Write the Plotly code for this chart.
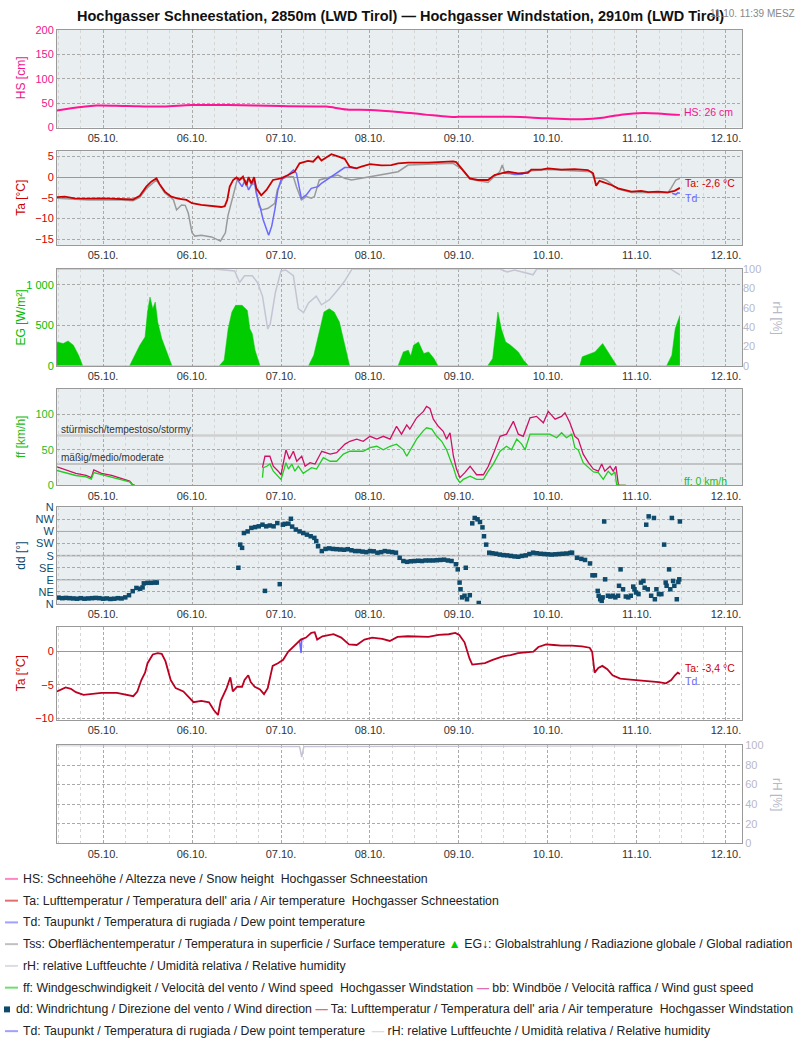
import plotly.graph_objects as go

YEAR = "2023-"
def ts(lst):
    return [None if s is None else YEAR + s for s in lst]

# ---------------- DATA ----------------
hs_t = ["10-04 11:35","10-04 18:00","10-04 22:15","10-05 06:30","10-05 16:10","10-06 00:00","10-06 10:00",
        "10-07 00:00","10-07 09:30","10-07 12:15","10-07 17:45","10-08 00:00","10-08 07:35","10-08 14:30",
        "10-08 21:20","10-09 00:00","10-09 14:00","10-10 00:00","10-10 09:15","10-10 14:45","10-10 20:15",
        "10-11 01:45","10-11 07:20","10-11 11:35"]
hs_v = [35,42,45,44,43,46,46,44,43,43,37,36,32,27,22,22,22,19,17,20,27,30,28,26]

ta_t = ["10-04 11:35","10-04 13:40","10-04 16:20","10-04 20:00","10-05 00:00","10-05 05:00","10-05 08:05",
        "10-05 09:55","10-05 11:40","10-05 13:00","10-05 14:25","10-05 15:15","10-05 16:40","10-05 18:25",
        "10-05 20:15","10-05 22:30","10-06 00:00","10-06 02:30","10-06 05:15","10-06 07:55","10-06 08:50",
        "10-06 09:30","10-06 10:10","10-06 11:05","10-06 12:00","10-06 12:50","10-06 13:45","10-06 14:40",
        "10-06 15:15","10-06 16:00","10-06 16:45","10-06 17:20","10-06 18:40","10-06 20:05","10-06 21:50",
        "10-07 00:00","10-07 01:55","10-07 03:40","10-07 05:00","10-07 07:15","10-07 08:40","10-07 10:00",
        "10-07 10:55","10-07 13:35","10-07 15:20","10-07 17:10","10-07 18:30","10-07 20:20","10-07 21:40",
        "10-08 00:00","10-08 03:05","10-08 05:45","10-08 07:35","10-08 10:15","10-08 15:40","10-08 19:15",
        "10-08 22:25","10-08 23:15","10-09 00:40","10-09 02:55","10-09 05:05","10-09 07:50","10-09 09:35",
        "10-09 13:15","10-09 15:55","10-09 18:35","10-09 19:30","10-09 22:10","10-10 00:00","10-10 03:35",
        "10-10 07:10","10-10 10:45","10-10 12:10","10-10 13:00","10-10 13:55","10-10 15:15","10-10 17:05",
        "10-10 18:55","10-10 20:40","10-10 22:30","10-11 01:10","10-11 03:00","10-11 05:40","10-11 08:20",
        "10-11 10:10","10-11 11:35"]
ta_v = [-4.8,-4.7,-5.1,-5.2,-5.1,-5.2,-5.4,-4.5,-2.3,-1.1,-0.3,-1.7,-3.5,-4.7,-5.2,-5.5,-6.3,-6.7,-6.9,-7.2,-7.0,
        -5.5,-2.3,-0.7,-0.1,-0.7,0.1,-1.9,0.0,-1.5,0.0,-2.7,-4.4,-3.1,-0.7,-0.3,0.5,1.3,3.3,3.9,3.7,5.0,4.0,5.5,
        5.0,4.4,2.5,2.1,2.5,3.1,2.8,2.9,3.3,3.5,3.5,3.7,3.8,3.6,2.1,-0.3,-0.7,-0.7,0.5,1.3,0.9,1.0,1.8,1.8,2.1,
        1.8,1.9,1.7,0.9,-2.1,-0.9,-1.3,-1.9,-2.7,-3.1,-3.5,-3.3,-3.6,-3.5,-3.7,-3.3,-2.6]

tss_t = ["10-04 11:35","10-04 16:20","10-04 20:00","10-05 05:00","10-05 08:05","10-05 09:55","10-05 11:40",
         "10-05 14:25","10-05 16:40","10-05 18:25","10-05 19:00","10-05 19:50","10-05 21:10","10-05 22:10",
         "10-05 23:00","10-06 00:00","10-06 00:45","10-06 02:30","10-06 05:15","10-06 07:40","10-06 09:00",
         "10-06 09:40","10-06 11:00","10-06 12:10","10-06 13:45","10-06 14:40","10-06 15:15","10-06 16:00",
         "10-06 17:00","10-06 18:00","10-06 18:50","10-06 20:30","10-06 22:20","10-06 23:00","10-07 00:30",
         "10-07 01:55","10-07 03:20","10-07 04:10","10-07 05:30","10-07 06:50","10-07 08:10","10-07 09:00",
         "10-07 10:20","10-07 12:40","10-07 15:20","10-07 17:10","10-07 19:00","10-07 21:40","10-08 00:00",
         "10-08 03:05","10-08 07:35","10-08 10:15","10-08 15:40","10-08 22:25","10-09 00:40","10-09 02:55",
         "10-09 07:50","10-09 09:35","10-09 11:00","10-09 11:40","10-09 12:25","10-09 15:55","10-09 19:30",
         "10-10 00:00","10-10 07:10","10-10 11:40","10-10 12:30","10-10 14:20","10-10 15:40","10-10 17:05",
         "10-10 18:55","10-10 22:30","10-11 03:00","10-11 08:20","10-11 09:10","10-11 10:30","10-11 11:35"]
tss_v = [-5.1,-5.4,-5.5,-5.5,-5.7,-4.9,-2.8,-0.7,-3.8,-5.0,-5.5,-7.9,-6.7,-6.8,-8.7,-13.4,-14.2,-14.0,-14.4,
         -15.4,-13.4,-9.4,-4.7,-0.7,-0.3,-2.2,-0.4,-1.9,-1.5,-6.7,-7.9,-7.5,-6.3,-3.1,-0.3,0.1,0.1,-2.3,-5.5,
         -4.7,-5.1,-4.7,-0.7,-0.1,0.5,-0.3,-0.7,-0.3,0.1,0.5,1.3,2.9,3.1,3.3,2.0,-0.5,-1.3,0.1,1.3,2.9,0.9,0.7,
         1.5,1.8,1.6,1.3,-0.3,-0.3,-0.7,-1.7,-2.9,-3.7,-3.8,-3.8,-2.7,-0.7,-0.3]

td_t = ["10-06 12:00","10-06 13:30","10-06 14:20","10-06 15:15","10-06 16:45","10-06 17:20","10-06 18:20",
        "10-06 19:10","10-06 20:40","10-06 21:30","10-06 22:20","10-06 23:10","10-07 00:00","10-07 01:55",
        "10-07 03:20","10-07 04:10","10-07 05:30","10-07 06:50","10-07 08:10","10-07 10:00","10-07 10:55",
        "10-07 13:35","10-07 15:20","10-07 17:10","10-07 18:30","10-07 20:20", None,
        "10-09 12:00","10-09 13:30","10-09 15:00","10-09 17:00","10-09 19:00", None,
        "10-11 09:30","10-11 10:30","10-11 11:00","10-11 11:35"]
td_v = [-0.3,-2.3,-0.7,-3.1,-0.7,-3.9,-7.1,-10.2,-14.0,-11.8,-7.9,-3.1,-0.7,0.5,1.7,0.9,-5.1,-4.3,-2.7,-2.3,
        -1.5,0.1,1.3,2.3,2.3,2.1, None, 0.9,1.0,0.6,0.7,1.4, None, -3.9,-4.2,-3.8,-3.9]

eg_t = ["10-04 11:35","10-04 13:15","10-04 14:35","10-04 16:00","10-04 17:25","10-04 18:30",
        "10-05 07:10","10-05 08:35","10-05 09:55","10-05 11:20","10-05 12:00","10-05 12:40","10-05 13:25",
        "10-05 14:05","10-05 14:45","10-05 15:50","10-05 17:15","10-05 18:35",
        "10-06 07:20","10-06 08:40","10-06 09:45","10-06 10:45","10-06 11:45","10-06 13:30","10-06 14:55",
        "10-06 15:35","10-06 16:15","10-06 17:00","10-06 18:20",
        "10-07 07:25","10-07 08:50","10-07 10:10","10-07 11:35","10-07 13:00","10-07 14:20","10-07 15:45",
        "10-07 17:05","10-07 18:30",
        "10-08 07:35","10-08 09:00","10-08 10:20","10-08 11:00","10-08 11:45","10-08 13:05","10-08 14:30",
        "10-08 15:50","10-08 17:15","10-08 18:20",
        "10-09 07:45","10-09 09:05","10-09 10:30","10-09 11:25","10-09 12:35","10-09 13:55","10-09 16:00",
        "10-09 17:25","10-09 18:45",
        "10-10 08:35","10-10 09:15","10-10 10:35","10-10 12:40","10-10 14:45","10-10 16:10","10-10 17:30",
        "10-10 18:35",
        "10-11 08:00","10-11 09:25","10-11 10:20","10-11 11:25","10-11 11:35"]
eg_v = [295,275,307,254,131,0,
        0,131,254,357,664,848,705,787,541,336,152,0,
        0,70,459,664,746,746,684,459,397,193,0,
        0,131,377,664,705,664,541,295,0,
        0,172,193,120,254,295,152,172,90,0,
        0,90,664,459,295,254,172,70,0,
        0,111,131,172,275,172,90,0,
        0,131,459,582,623]

rh1_t = ["10-04 11:35","10-06 06:00","10-06 11:30","10-06 12:50","10-06 14:10","10-06 16:15","10-06 17:40",
         "10-06 19:00","10-06 20:25","10-06 21:05","10-06 22:30","10-07 00:00","10-07 01:15","10-07 03:20",
         "10-07 04:40","10-07 06:05","10-07 07:25","10-07 09:30","10-07 10:55","10-07 13:00","10-07 15:00",
         "10-07 17:05","10-07 19:10","10-09 11:00","10-09 13:00","10-09 15:00","10-09 20:00","10-09 21:00",
         "10-11 09:00","10-11 10:30","10-11 11:35"]
rh1_v = [100,100,98,86,93,93,86,72,38,43,76,98,99,93,59,55,65,72,63,68,77,87,100,100,97,99,94,100,100,97,94]

ff_t = ["10-04 11:35","10-04 13:55","10-04 16:40","10-04 19:25","10-04 20:50","10-04 21:30","10-04 23:35",
        "10-05 02:20","10-05 05:05","10-05 07:10","10-05 07:50","10-05 08:35", None,
        "10-06 19:00","10-06 19:15","10-06 20:10","10-06 21:00","10-06 21:55","10-06 22:50","10-07 00:00",
        "10-07 00:40","10-07 01:20","10-07 02:00","10-07 02:55","10-07 03:45","10-07 04:40","10-07 06:00",
        "10-07 06:55","10-07 08:15","10-07 09:35","10-07 10:30","10-07 11:25","10-07 13:15","10-07 15:00",
        "10-07 16:50","10-07 18:35","10-07 20:25","10-07 22:10","10-08 00:00","10-08 01:50","10-08 03:35",
        "10-08 05:25","10-08 07:10","10-08 09:00","10-08 09:55","10-08 10:45","10-08 12:35","10-08 14:25",
        "10-08 15:15","10-08 16:40","10-08 18:00","10-08 19:20","10-08 20:40","10-08 21:35","10-08 22:30",
        "10-08 23:20","10-09 00:15","10-09 01:10","10-09 03:00","10-09 04:45","10-09 06:35","10-09 07:55",
        "10-09 09:15","10-09 11:05","10-09 12:50","10-09 14:10","10-09 15:35","10-09 16:55","10-09 17:50",
        "10-09 19:10","10-09 20:55","10-09 22:45","10-10 00:30","10-10 02:20","10-10 03:40","10-10 05:00",
        "10-10 06:25","10-10 07:15","10-10 08:10","10-10 09:30","10-10 10:55","10-10 12:15","10-10 13:35",
        "10-10 14:55","10-10 16:15","10-10 17:10","10-10 18:05","10-10 18:30","10-10 19:25","10-10 21:00"]
ff_v = [21,18,14,12,9,18,15,12,8,5,1,0, None,
        11,25,27,30,20,15,8.5,20,32,23,30,20,27,17,20,25,23,32,39,34,34,44,48,48,48,53,55,50,55,58,50,41,48,
        65,77,81,79,69,62,50,37,25,11,4,8.5,13,8.5,8.5,20,30,48,55,50,65,58,50,72,72,71,72,67,74,67,72,53,50,
        32,25,19,18,8.5,20,15,19,1.4,0,0]

bb_t = ["10-04 11:35","10-04 13:55","10-04 16:40","10-04 19:25","10-04 20:50","10-04 21:30","10-04 23:35",
        "10-05 02:20","10-05 05:05","10-05 07:10","10-05 07:50","10-05 08:35", None,
        "10-06 19:00","10-06 19:40","10-06 21:00","10-06 21:55","10-06 23:15","10-07 00:00","10-07 01:20",
        "10-07 02:15","10-07 03:20","10-07 04:15","10-07 05:35","10-07 06:30","10-07 07:50","10-07 09:10",
        "10-07 11:00","10-07 13:15","10-07 15:00","10-07 17:15","10-07 18:35","10-07 20:25","10-07 22:10",
        "10-08 00:00","10-08 01:50","10-08 03:35","10-08 05:25","10-08 07:10","10-08 08:30","10-08 09:55",
        "10-08 10:45","10-08 12:35","10-08 14:25","10-08 15:15","10-08 16:10","10-08 17:05","10-08 18:25",
        "10-08 19:45","10-08 20:40","10-08 21:35","10-08 22:30","10-08 23:20","10-09 00:15","10-09 01:35",
        "10-09 03:00","10-09 04:45","10-09 06:35","10-09 07:55","10-09 09:15","10-09 11:05","10-09 12:50",
        "10-09 14:40","10-09 16:00","10-09 17:20","10-09 19:10","10-09 20:55","10-09 22:45","10-10 00:05",
        "10-10 01:55","10-10 03:40","10-10 04:35","10-10 05:55","10-10 07:15","10-10 08:10","10-10 09:30",
        "10-10 10:55","10-10 12:15","10-10 13:35","10-10 14:30","10-10 15:20","10-10 16:45","10-10 17:35",
        "10-10 18:20","10-10 19:00","10-10 19:25","10-10 21:00"]
bb_v = [26,22,17,14,11,22,17,14,10,6,2,0, None,
        25,41,41,27,20,15,50,37,48,34,41,27,32,30,48,44,46,58,62,65,62,69,65,69,65,83,72,85,79,95,104,111,108,
        93,83,76,65,74,41,23,11,18,27,15,15,27,44,69,72,90,72,69,95,97,88,104,93,97,102,88,69,65,44,32,23,20,
        30,20,27,20,27,1,0,0]

dd_t = ["10-04 12:00","10-04 13:00","10-04 14:00","10-04 15:00","10-04 16:00","10-04 17:00","10-04 18:00",
        "10-04 19:00","10-04 20:00","10-04 21:00","10-04 22:00","10-04 23:00","10-05 00:00","10-05 01:00",
        "10-05 02:00","10-05 03:00","10-05 04:00","10-05 05:00","10-05 06:00","10-05 07:00","10-05 08:00",
        "10-05 09:00","10-05 10:00","10-05 10:40","10-05 11:00","10-05 12:00","10-05 13:00","10-05 14:00",
        "10-05 14:30",
        "10-06 12:30","10-06 13:00","10-06 13:30","10-06 14:00","10-06 15:00","10-06 16:00","10-06 17:00",
        "10-06 18:00","10-06 19:00","10-06 19:40","10-06 20:00","10-06 21:00","10-06 22:00","10-06 23:00",
        "10-06 23:40","10-07 00:30","10-07 01:00","10-07 02:00","10-07 02:40","10-07 03:00","10-07 04:00",
        "10-07 05:00","10-07 06:00","10-07 07:00","10-07 08:00","10-07 09:00","10-07 09:30","10-07 10:00",
        "10-07 11:00","10-07 12:00","10-07 13:00","10-07 14:00","10-07 15:00","10-07 16:00","10-07 17:00",
        "10-07 18:00","10-07 19:00","10-07 20:00","10-07 21:00","10-07 22:00","10-07 23:00","10-08 00:00",
        "10-08 01:00","10-08 02:00","10-08 03:00","10-08 04:00","10-08 05:00","10-08 06:00","10-08 07:00",
        "10-08 08:00","10-08 09:00","10-08 10:00","10-08 11:00","10-08 12:00","10-08 13:00","10-08 14:00",
        "10-08 15:00","10-08 16:00","10-08 17:00","10-08 18:00","10-08 19:00","10-08 20:00","10-08 21:00",
        "10-08 22:00","10-08 23:10","10-08 23:40","10-09 00:10","10-09 00:25","10-09 00:50","10-09 01:30",
        "10-09 01:50","10-09 02:10","10-09 02:55","10-09 03:35","10-09 04:15","10-09 05:00","10-09 05:20",
        "10-09 05:40","10-09 06:20","10-09 06:45","10-09 07:20","10-09 08:10","10-09 09:00","10-09 10:00",
        "10-09 11:00","10-09 12:00","10-09 13:00","10-09 14:00","10-09 15:00","10-09 16:00","10-09 17:00",
        "10-09 18:00","10-09 19:00","10-09 20:00","10-09 21:00","10-09 22:00","10-09 23:00","10-10 00:00",
        "10-10 01:00","10-10 02:00","10-10 03:00","10-10 04:00","10-10 05:00","10-10 06:00","10-10 06:30",
        "10-10 07:50","10-10 09:00","10-10 10:00","10-10 11:20","10-10 12:00","10-10 12:40","10-10 13:25",
        "10-10 13:40","10-10 14:05","10-10 14:30","10-10 14:45","10-10 15:10","10-10 15:25","10-10 16:10",
        "10-10 16:50","10-10 17:30","10-10 18:10","10-10 18:55","10-10 19:10","10-10 19:35","10-10 20:15",
        "10-10 21:00","10-10 21:40","10-10 22:20","10-10 23:00","10-10 23:20","10-10 23:45","10-11 00:25",
        "10-11 01:05","10-11 01:45","10-11 02:05","10-11 02:30","10-11 02:55","10-11 03:10","10-11 03:50",
        "10-11 04:35","10-11 04:50","10-11 05:15","10-11 05:55","10-11 06:35","10-11 07:20","10-11 07:45",
        "10-11 08:00","10-11 08:40","10-11 09:00","10-11 09:25","10-11 09:45","10-11 10:05","10-11 10:45",
        "10-11 11:10","10-11 11:25","10-11 11:35"]
dd_v = [24,22,23,22,21,20,22,20,21,22,23,22,20,21,19,20,22,21,25,33,48,60,57,62,77,79,79,80,80,
        135,221,209,264,270,283,286,289,295,49,289,292,289,301,74,295,298,299,317,288,277,270,264,258,252,
        246,234,215,197,205,207,205,204,203,202,204,200,197,197,195,193,197,196,191,193,197,195,193,191,172,
        160,157,159,160,161,160,162,162,162,163,164,165,162,160,148,129,80,55,25,31,135,18,33,300,320,315,4,
        305,285,252,221,191,189,187,184,182,181,179,177,176,179,181,186,191,189,187,186,185,184,185,186,187,
        188,190,191,172,168,164,151,107,107,49,31,18,12,25,307,92,31,28,31,25,31,68,129,55,28,25,31,65,55,43,
        37,80,86,61,295,55,326,31,320,18,55,37,37,221,80,68,129,55,320,86,68,18,82,92,307]

ta2_t = ["10-04 11:35","10-04 12:35","10-04 13:55","10-04 15:20","10-04 16:40","10-04 18:45","10-04 20:50",
         "10-04 23:35","10-05 03:45","10-05 06:30","10-05 08:10","10-05 09:15","10-05 10:20","10-05 11:20",
         "10-05 12:00","10-05 13:25","10-05 14:45","10-05 15:50","10-05 16:50","10-05 18:15","10-05 19:35",
         "10-05 21:40","10-05 23:20","10-06 00:25","10-06 02:30","10-06 04:35","10-06 05:55","10-06 07:00",
         "10-06 07:45","10-06 08:40","10-06 09:20","10-06 10:20","10-06 11:00","10-06 12:10","10-06 13:30",
         "10-06 14:10","10-06 15:10","10-06 15:50","10-06 16:55","10-06 18:20","10-06 19:25","10-06 20:25",
         "10-06 21:45","10-06 23:10","10-07 00:35","10-07 01:55","10-07 03:45","10-07 05:20","10-07 06:45",
         "10-07 08:10","10-07 09:05","10-07 09:45","10-07 11:10","10-07 12:50","10-07 14:10","10-07 16:15",
         "10-07 18:20","10-07 20:25","10-07 22:30","10-08 00:35","10-08 03:20","10-08 05:20","10-08 07:25",
         "10-08 10:10","10-08 12:55","10-08 15:45","10-08 18:30","10-08 21:15","10-08 23:00","10-09 00:05",
         "10-09 01:30","10-09 02:50","10-09 03:35","10-09 05:40","10-09 07:00","10-09 09:05","10-09 11:50",
         "10-09 13:55","10-09 15:55","10-09 18:00","10-09 20:05","10-09 21:25","10-09 23:30","10-10 01:35",
         "10-10 03:35","10-10 06:25","10-10 09:10","10-10 11:15","10-10 11:55","10-10 12:35","10-10 13:35",
         "10-10 14:40","10-10 16:00","10-10 17:25","10-10 19:30","10-10 21:30","10-11 00:20","10-11 03:05",
         "10-11 05:50","10-11 07:50","10-11 09:15","10-11 10:15","10-11 11:00","10-11 11:35"]
ta2_v = [-6.0,-5.7,-5.4,-5.6,-6.1,-6.5,-6.4,-6.2,-6.2,-6.5,-6.7,-6.0,-4.3,-3.2,-1.8,-0.5,-0.3,-0.4,-1.5,-4.3,
         -5.5,-6.0,-6.9,-7.6,-7.4,-7.6,-8.8,-9.5,-7.4,-6.4,-5.5,-3.9,-6.0,-5.3,-5.3,-4.3,-3.6,-4.6,-5.3,-5.7,
         -6.4,-5.5,-2.2,-1.8,-1.3,-0.1,0.8,1.7,2.0,2.7,2.8,1.7,2.2,2.4,2.5,2.0,1.0,0.9,1.7,2.0,1.8,1.5,2.1,2.2,
         2.2,2.1,2.4,2.5,2.7,2.4,1.3,-1.1,-2.0,-1.9,-1.8,-1.3,-0.8,-0.6,-0.3,-0.2,-0.1,0.6,1.0,0.9,0.8,0.8,0.7,
         0.5,-0.1,-3.2,-2.5,-2.2,-2.7,-3.6,-4.1,-4.2,-4.3,-4.5,-4.6,-4.8,-4.3,-3.6,-3.2,-3.4]

td2_t = ["10-07 05:00","10-07 05:25","10-07 05:35","10-07 06:00"]
td2_v = [1.5,-0.3,1.6,1.8]

rh2_t = ["10-04 11:35","10-07 05:00","10-07 05:35","10-07 06:10","10-11 11:35"]
rh2_v = [100,99,88,99,100]

x_range = [YEAR + "10-04 11:35", YEAR + "10-12 04:20"]
date_tick0 = YEAR + "10-05 00:00"

# ---------------- STYLE ----------------
W, H = 800, 1050
FONT = "Liberation Sans, Arial, sans-serif"
PLOT_BG = "#e9eef1"
GRID = "#aaaaaa"
MINOR = "#d6d6d6"
BORDER = "#999999"

def px_x(p):
    return p / W
def px_y(p):
    return 1 - p / H

panels = {  # top, bottom in pixels
    1: (24, 123), 2: (147, 242), 3: (266, 364), 4: (387, 485),
    5: (507, 605), 6: (628, 722), 7: (748, 847)
}
xdom = [px_x(57), px_x(742)]

fig = go.Figure()

def add_line(x, y, ax, color, width=1.5, shape="linear", fill=None, fillcolor=None):
    fig.add_trace(go.Scatter(x=ts(x), y=y, mode="lines", xaxis="x" + ("" if ax == 1 else str(ax)),
                             yaxis="y" + ("" if ax == 1 else str(ax)),
                             line=dict(color=color, width=width, shape=shape),
                             fill=fill, fillcolor=fillcolor, connectgaps=False, showlegend=False,
                             hoverinfo="skip"))

add_line(hs_t, hs_v, 1, "#ff1493", 2, "spline")
add_line(tss_t, tss_v, 2, "#9a9a9a", 1.5)
add_line(td_t, td_v, 2, "#6a6aff", 1.5)
add_line(ta_t, ta_v, 2, "#cc0000", 1.8)
add_line(eg_t, eg_v, 3, "#00c800", 0.5, fill="tozeroy", fillcolor="#00cc00")
fig.add_trace(go.Scatter(x=ts(rh1_t), y=rh1_v, mode="lines", xaxis="x3", yaxis="y8",
                         line=dict(color="#c4c4d4", width=1.5), showlegend=False, hoverinfo="skip"))
add_line(bb_t, bb_v, 4, "#cc1166", 1.3)
add_line(ff_t, ff_v, 4, "#22cc22", 1.3)
fig.add_trace(go.Scatter(x=ts(dd_t), y=dd_v, mode="markers", xaxis="x5", yaxis="y5",
                         marker=dict(symbol="square", size=4.5, color="#0d4a6b", line=dict(width=0)),
                         showlegend=False, hoverinfo="skip"))
add_line(td2_t, td2_v, 6, "#6a6aff", 1.5)
add_line(ta2_t, ta2_v, 6, "#bb0022", 1.8)
add_line(rh2_t, rh2_v, 7, "#c4c4d4", 1.5)

layout = dict(width=W, height=H, margin=dict(l=0, r=0, t=0, b=0), paper_bgcolor="white",
              plot_bgcolor="white", font=dict(family=FONT, size=11, color="#333333"),
              showlegend=False)

for i in range(1, 8):
    xa = dict(domain=xdom, anchor="y" + ("" if i == 1 else str(i)), type="date", range=x_range,
              tick0=date_tick0, dtick=86400000, tickformat="%d.%m.", ticks="",
              showgrid=True, gridcolor=GRID, griddash="3px,2px", gridwidth=1,
              minor=dict(dtick=21600000, tick0=date_tick0, showgrid=True, gridcolor=MINOR,
                         griddash="3px,3px", gridwidth=1, ticks=""),
              showline=True, linecolor=BORDER, linewidth=1, mirror=True, zeroline=False,
              tickfont=dict(family=FONT, size=11, color="#333333"), fixedrange=True)
    if i != 1:
        xa["matches"] = "x"
    layout["xaxis" + ("" if i == 1 else str(i))] = xa

def yax(i, rng, tickvals, color, ticktext=None, side="left", zeroline=False):
    top, bot = panels[i]
    d = dict(domain=[px_y(bot), px_y(top)], anchor="x" + ("" if i == 1 else str(i)), range=rng,
             tickmode="array", tickvals=tickvals, showgrid=True, gridcolor=GRID, griddash="3px,2px",
             gridwidth=1, showline=True, linecolor=BORDER, linewidth=1, mirror=True, ticks="",
             side=side, zeroline=zeroline, zerolinecolor="#999999", zerolinewidth=1,
             tickfont=dict(family=FONT, size=11, color=color), fixedrange=True)
    if ticktext is not None:
        d["ticktext"] = ticktext
    return d

layout["yaxis"] = yax(1, [0, 200], [0, 50, 100, 150, 200], "#f0158c")
layout["yaxis2"] = yax(2, [-16.4, 6.2], [-15, -10, -5, 0, 5], "#cc0000", zeroline=True)
layout["yaxis3"] = yax(3, [0, 1195], [0, 500, 1000], "#00bb00", ticktext=["0", "500", "1 000"])
layout["yaxis4"] = yax(4, [0, 136], [0, 50, 100], "#22bb22")
layout["yaxis5"] = yax(5, [0, 360], [0, 45, 90, 135, 180, 225, 270, 315, 360], "#0d4a6b",
                       ticktext=["N", "NE", "E", "SE", "S", "SW", "W", "NW", "N"])
layout["yaxis6"] = yax(6, [-10.2, 3.6], [-10, -5, 0], "#cc0000", zeroline=True)
layout["yaxis7"] = yax(7, [0, 100], [0, 20, 40, 60, 80, 100], "#b8b8c8", side="right")
layout["yaxis8"] = dict(overlaying="y3", anchor="x3", side="right", range=[0, 100],
                        tickvals=[0, 20, 40, 60, 80, 100], showgrid=False, zeroline=False,
                        showline=False, ticks="", tickfont=dict(family=FONT, size=11, color="#b8b8c8"),
                        fixedrange=True)

shapes = []
for i in range(1, 6):
    suf = "" if i == 1 else str(i)
    shapes.append(dict(type="rect", xref="x" + suf + " domain", yref="y" + suf + " domain",
                       x0=0, x1=1, y0=0, y1=1, fillcolor=PLOT_BG, line=dict(width=0), layer="below"))
for val, col, wd in [(30, "#b4b4b4", 1.5), (70, "#cfcfcf", 2.5)]:
    shapes.append(dict(type="line", xref="x4 domain", yref="y4", x0=0, x1=1, y0=val, y1=val,
                       line=dict(color=col, width=wd), layer="below"))
for val, col, wd in [(90, "#a8a8a8", 1), (180, "#c8c8c8", 2), (270, "#a8a8a8", 1)]:
    shapes.append(dict(type="line", xref="x5 domain", yref="y5", x0=0, x1=1, y0=val, y1=val,
                       line=dict(color=col, width=wd), layer="below"))

ann = []
def note(x, y, text, color, size=11, anchor="left", angle=0, bold=False):
    ann.append(dict(x=px_x(x), y=px_y(y), xref="paper", yref="paper",
                    text=("<b>%s</b>" % text) if bold else text,
                    showarrow=False, xanchor=anchor, yanchor="middle", textangle=angle,
                    borderpad=0, font=dict(family=FONT, size=size, color=color)))

note(400, 10, "Hochgasser Schneestation, 2850m (LWD Tirol) — Hochgasser Windstation, 2910m (LWD Tirol)",
     "#111111", 14.5, anchor="center", bold=True)
note(796, 8, "11.10. 11:39 MESZ", "#888888", 10, anchor="right")

note(21, 73, "HS [cm]", "#f0158c", 12, anchor="center", angle=-90)
note(21, 194, "Ta [°C]", "#cc0000", 12, anchor="center", angle=-90)
note(21, 315, "EG [W/m²]", "#00bb00", 12, anchor="center", angle=-90)
note(21, 436, "ff [km/h]", "#22bb22", 12, anchor="center", angle=-90)
note(21, 556, "dd [°]", "#0d4a6b", 12, anchor="center", angle=-90)
note(21, 675, "Ta [°C]", "#cc0000", 12, anchor="center", angle=-90)
note(777, 315, "rH [%]", "#b8b8c8", 12, anchor="center", angle=90)
note(777, 797, "rH [%]", "#b8b8c8", 12, anchor="center", angle=90)

note(683, 107, "HS: 26 cm", "#f0158c", 10.5)
note(684, 179, "Ta: -2,6 °C", "#cc0000", 10.5)
note(684, 194, "Td", "#6a6aff", 10.5)
note(60, 428, "stürmisch/tempestoso/stormy", "#333333", 10)
note(60, 457, "mäßig/medio/moderate", "#333333", 10)
note(683, 480, "ff: 0 km/h", "#22bb22", 10.5)
note(684, 670, "Ta: -3,4 °C", "#cc0000", 10.5)
note(684, 683, "Td", "#6a6aff", 10.5)

LEG = 12.3
def sym(col, ch="—"):
    return "<span style='color:%s'><b>%s</b></span>" % (col, ch)

rows = [
    (883, "#ff88c4", "HS: Schneehöhe / Altezza neve / Snow height  Hochgasser Schneestation"),
    (905, "#e07070", "Ta: Lufttemperatur / Temperatura dell' aria / Air temperature  Hochgasser Schneestation"),
    (927, "#a0a0ff", "Td: Taupunkt / Temperatura di rugiada / Dew point temperature"),
    (949, "#c0c0c0", "Tss: Oberflächentemperatur / Temperatura in superficie / Surface temperature "
                     + sym("#00cc00", "▲") + " EG↓: Globalstrahlung / Radiazione globale / Global radiation"),
    (971, "#dcdce6", "rH: relative Luftfeuchte / Umidità relativa / Relative humidity"),
    (993, "#70dd70", "ff: Windgeschwindigkeit / Velocità del vento / Wind speed  Hochgasser Windstation "
                     + sym("#e070b0") + " bb: Windböe / Velocità raffica / Wind gust speed"),
    (1037, "#a0a0ff", "Td: Taupunkt / Temperatura di rugiada / Dew point temperature  "
                      + sym("#dcdce6") + " rH: relative Luftfeuchte / Umidità relativa / Relative humidity"),
]
for y, col, text in rows:
    shapes.append(dict(type="line", xref="paper", yref="paper", x0=px_x(5), x1=px_x(18), y0=px_y(y), y1=px_y(y),
                       line=dict(color=col, width=2)))
    note(22, y, text, "#222222", LEG)

shapes.append(dict(type="rect", xref="paper", yref="paper", x0=px_x(4), x1=px_x(10), y0=px_y(1018), y1=px_y(1012),
                   fillcolor="#0d4a6b", line=dict(width=0)))
note(15, 1015, "dd: Windrichtung / Direzione del vento / Wind direction " + sym("#e07070")
     + " Ta: Lufttemperatur / Temperatura dell' aria / Air temperature  Hochgasser Windstation", "#222222", LEG)

layout["shapes"] = shapes
layout["annotations"] = ann
fig.update_layout(**layout)

fig.write_html("out.html", config={"displayModeBar": False, "staticPlot": True},
               post_script="document.body.style.margin='0px';document.body.style.overflow='hidden';")
